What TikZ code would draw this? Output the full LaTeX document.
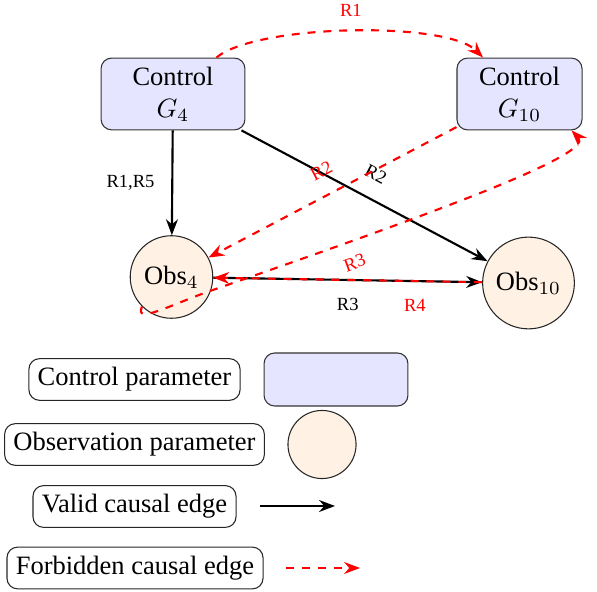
\documentclass[tikz,border=0pt]{standalone}
\usepackage{fontspec}
\setmainfont{Liberation Serif}
\usetikzlibrary{arrows.meta,calc}
\begin{document}
\begin{tikzpicture}[x=0.3774pt,y=0.3774pt,
  ctrl/.style={draw=black!80, fill=blue!10, rounded corners=4pt, align=center, minimum height=25.7pt, inner sep=3.33pt},
  obs/.style={draw=black!85, fill=orange!10, circle, inner sep=3.33pt},
  leg/.style={draw=black!85, rounded corners=4pt, inner sep=3.33pt},
  valid/.style={thick, -{Stealth[length=6pt,width=4.5pt]}},
  forbid/.style={thick, red, dashed, -{Stealth[length=6pt,width=4.5pt]}},
  lab/.style={font=\scriptsize}
]
\useasboundingbox (0,0) rectangle (597,592);

% main nodes
\node[ctrl, minimum width=54.3pt] (g4) at (173,498) {Control\\$G_4$};
\node[ctrl, minimum width=47.2pt] (g10) at (519.5,498) {Control\\$G_{10}$};
\node[obs] (obs4) at (171.5,315) {Obs$_4$};
\node[obs] (obs10) at (528.5,309) {Obs$_{10}$};

% legend
\node[leg] (lc) at (134.5,212.5) {Control parameter};
\node[draw=black!80, fill=blue!10, rounded corners=4pt, minimum width=54.3pt, minimum height=20pt] (lrect) at (336,212.5) {};
\node[leg] (lo) at (134.5,147.5) {Observation parameter};
\node[draw=black!85, fill=orange!10, circle, minimum size=25.7pt] (lcirc) at (322,147.5) {};
\node[leg] (lv) at (134.5,85.5) {Valid causal edge};
\coordinate (va) at (260,86);
\coordinate (vb) at (335,86);
\node[leg] (lf) at (135,24) {Forbidden causal edge};
\coordinate (fa) at (286,24);
\coordinate (fb) at (360,24);
\draw[valid] (va) -- (vb);
\draw[forbid] (fa) -- (fb);

% edges
\draw[valid] (g4) -- node[lab, left=3pt] {R1,R5} (obs4);
\draw[valid] (g4) -- node[lab, sloped, above=3pt] {R2} (obs10);
\draw[forbid] (g10) -- node[lab, sloped, above=3pt] {R2} (obs4);
\draw[forbid] (g4) to[out=40, in=135, looseness=0.5] node[lab, above=2pt] {R1} (g10);
\draw[valid] (obs4) -- node[lab, below=3pt] {R3} (obs10);
\draw[forbid] (obs10) -- node[lab, pos=0.25, below=3pt] {R4} (obs4);
\coordinate (r3m) at (210,301);
\draw[forbid] (obs4.-135) .. controls (134,267) and (170,287) .. (r3m)
  .. controls (420,374) and (595,437) .. (g10.-35) node[lab, pos=0.23, sloped, below=2pt] {R3};
\end{tikzpicture}
\end{document}
